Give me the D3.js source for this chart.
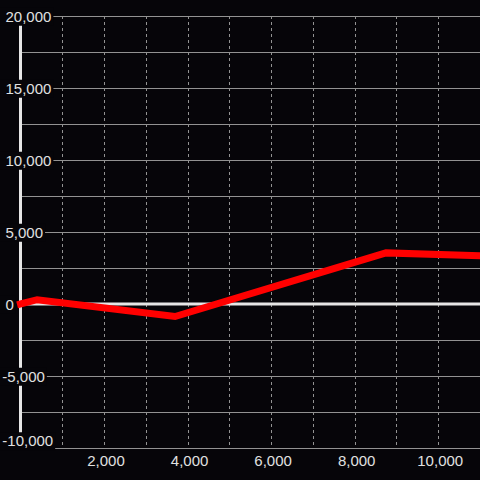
<!DOCTYPE html>
<html>
<head>
<meta charset="utf-8">
<script src="https://cdn.jsdelivr.net/npm/d3@7"></script>
<style>
  html, body { margin: 0; padding: 0; background: #060509; }
  svg { display: block; }
</style>
</head>
<body>
<svg id="chart" width="480" height="480"></svg>
<script>
const xValues = [0, 400, 3700, 8750, 11000]
const yValues = [0, 300, -870, 3550, 3350]
const xTicks = [2000, 4000, 6000, 8000, 10000]
const yTicks = [20000, 15000, 10000, 5000, 0, -5000, -10000]

const dataset = xValues.map((x, i) => ({ x: x, y: yValues[i] }))

const svg = d3.select('#chart')
const width = 480
const height = 480

svg.append('rect').attr('width', width).attr('height', height).attr('fill', '#060509')

const xScale = d3.scaleLinear().domain([0, 11000]).range([20.5, 480])
const yScale = d3.scaleLinear().domain([-10000, 20000]).range([448, 16])

const fmt = (v) => d3.format(',')(Math.abs(v))

// vertical dashed grid
svg
  .append('g')
  .selectAll('line')
  .data(d3.range(1000, 11001, 1000))
  .enter()
  .append('line')
  .attr('x1', (d) => Math.round(xScale(d)) + 0.5)
  .attr('x2', (d) => Math.round(xScale(d)) + 0.5)
  .attr('y1', yScale(20000))
  .attr('y2', yScale(-10000))
  .attr('stroke', '#929292')
  .attr('stroke-width', 1)
  .attr('stroke-dasharray', '3,3')

// horizontal grid
svg
  .append('g')
  .selectAll('line')
  .data(d3.range(-10000, 20001, 2500).filter((d) => d !== 0))
  .enter()
  .append('line')
  .attr('x1', 20)
  .attr('x2', width)
  .attr('y1', (d) => Math.round(yScale(d)) + 0.5)
  .attr('y2', (d) => Math.round(yScale(d)) + 0.5)
  .attr('stroke', '#929292')
  .attr('stroke-width', 1)

// zero line
svg
  .append('line')
  .attr('x1', 20)
  .attr('x2', width)
  .attr('y1', yScale(0))
  .attr('y2', yScale(0))
  .attr('stroke', '#e6e6e6')
  .attr('stroke-width', 3)

// y axis bar
svg
  .append('line')
  .attr('x1', 20.5)
  .attr('x2', 20.5)
  .attr('y1', yScale(20000))
  .attr('y2', yScale(-10000))
  .attr('stroke', '#e6e6e6')
  .attr('stroke-width', 3)

// y tick labels with background boxes
const yLabels = svg.append('g').selectAll('g').data(yTicks).enter().append('g')

yLabels
  .append('text')
  .attr('x', (d) => (d < 0 ? 2.3 : 5.5))
  .attr('y', (d) => (d === -10000 ? yScale(d) - 7 : yScale(d) + 0.5))
  .attr('dy', '0.35em')
  .attr('font-family', 'Liberation Sans, Arial, sans-serif')
  .attr('font-size', '15px')
  .attr('fill', '#e0e0e0')
  .text((d) => (d < 0 ? '-' : '') + fmt(d))

yLabels.each(function () {
  const g = d3.select(this)
  const box = g.select('text').node().getBBox()
  g.insert('rect', 'text')
    .attr('x', 0)
    .attr('y', box.y)
    .attr('width', box.x + box.width + 2)
    .attr('height', box.height + 1)
    .attr('fill', '#060509')
})

// x tick labels
svg
  .append('g')
  .selectAll('text')
  .data(xTicks)
  .enter()
  .append('text')
  .attr('x', (d) => xScale(d) + 2)
  .attr('y', 466)
  .attr('text-anchor', 'middle')
  .attr('font-family', 'Liberation Sans, Arial, sans-serif')
  .attr('font-size', '15px')
  .attr('fill', '#e0e0e0')
  .text((d) => fmt(d))

// data line
const line = d3
  .line()
  .x((d) => xScale(d.x))
  .y((d) => yScale(d.y))

svg
  .append('path')
  .datum(dataset)
  .attr('d', line)
  .attr('fill', 'none')
  .attr('stroke', '#ff0000')
  .attr('stroke-width', 7)
  .attr('stroke-linecap', 'square')
</script>
</body>
</html>
